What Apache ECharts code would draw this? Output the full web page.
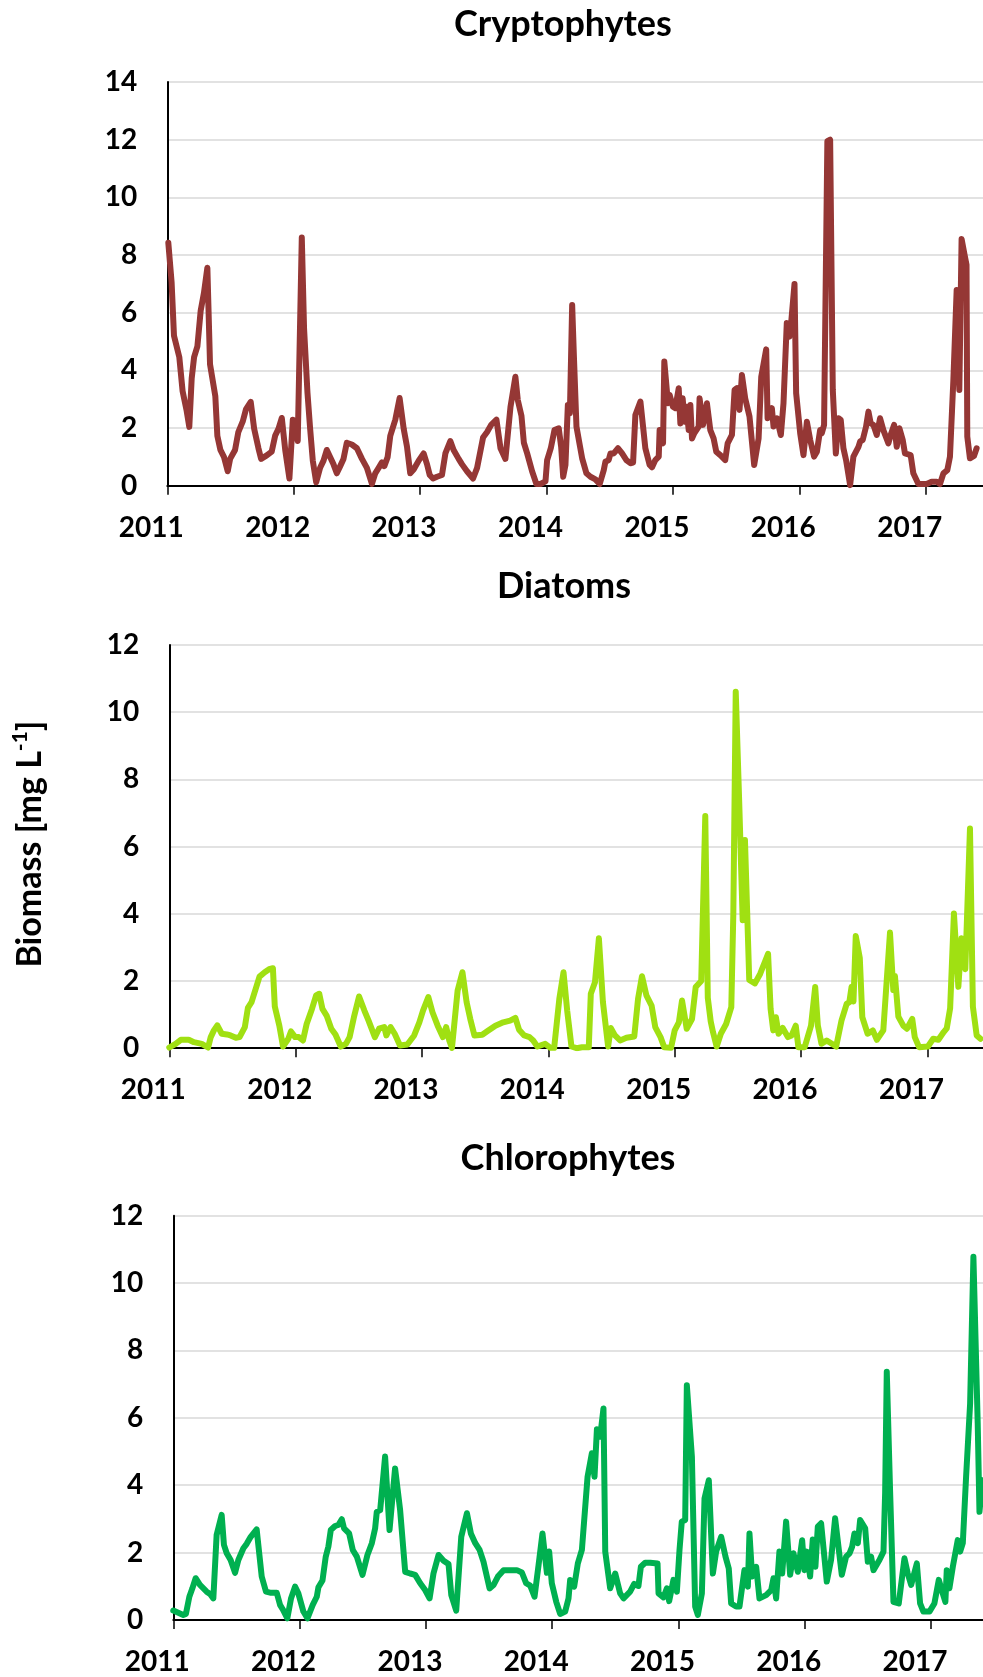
<!DOCTYPE html>
<html>
<head>
<meta charset="utf-8">
<script src="https://cdn.jsdelivr.net/npm/echarts@6/dist/echarts.min.js"></script>
<style>
html,body{margin:0;padding:0;background:#fff;}
#chart{width:983px;height:1677px;}
</style>
</head>
<body>
<div id="chart"></div>
<script>
// ---------- DATA ----------
const yearTicks = [2011, 2012, 2013, 2014, 2015, 2016, 2017];
const yearLabels = ['2011', '2012', '2013', '2014', '2015', '2016', '2017'];
const panelTitles = ['Cryptophytes', 'Diatoms', 'Chlorophytes'];
const yAxisTitle = 'Biomass [mg L';
const yAxisTitleSup = '-1';

const cryptoYears = [2011.008,2011.034,2011.053,2011.095,2011.121,2011.153,2011.174,2011.193,2011.212,2011.238,2011.264,2011.290,2011.317,2011.338,2011.380,2011.396,2011.420,2011.449,2011.478,2011.497,2011.536,2011.562,2011.597,2011.623,2011.660,2011.687,2011.721,2011.742,2011.787,2011.826,2011.853,2011.880,2011.906,2011.933,2011.966,2011.993,2012.011,2012.032,2012.064,2012.082,2012.109,2012.130,2012.151,2012.178,2012.209,2012.236,2012.262,2012.289,2012.315,2012.341,2012.368,2012.394,2012.420,2012.460,2012.500,2012.540,2012.579,2012.619,2012.645,2012.672,2012.698,2012.717,2012.743,2012.764,2012.804,2012.838,2012.870,2012.896,2012.922,2012.949,2012.989,2013.028,2013.055,2013.076,2013.102,2013.134,2013.173,2013.200,2013.239,2013.265,2013.305,2013.332,2013.371,2013.419,2013.451,2013.498,2013.530,2013.562,2013.604,2013.636,2013.675,2013.715,2013.754,2013.773,2013.802,2013.821,2013.847,2013.886,2013.920,2013.952,2013.992,2014.005,2014.034,2014.063,2014.097,2014.116,2014.132,2014.150,2014.169,2014.185,2014.203,2014.216,2014.237,2014.263,2014.282,2014.316,2014.348,2014.387,2014.421,2014.453,2014.466,2014.492,2014.506,2014.532,2014.566,2014.598,2014.632,2014.664,2014.685,2014.703,2014.743,2014.764,2014.782,2014.816,2014.835,2014.861,2014.888,2014.895,2014.922,2014.932,2014.961,2014.974,2015.000,2015.019,2015.046,2015.059,2015.077,2015.093,2015.106,2015.125,2015.138,2015.151,2015.169,2015.204,2015.211,2015.238,2015.269,2015.296,2015.322,2015.343,2015.375,2015.414,2015.433,2015.467,2015.488,2015.506,2015.527,2015.546,2015.572,2015.606,2015.643,2015.678,2015.699,2015.738,2015.749,2015.783,2015.796,2015.823,2015.854,2015.875,2015.901,2015.922,2015.933,2015.962,2015.975,2016.007,2016.033,2016.060,2016.086,2016.117,2016.139,2016.165,2016.178,2016.196,2016.222,2016.244,2016.265,2016.289,2016.310,2016.328,2016.349,2016.370,2016.402,2016.428,2016.468,2016.481,2016.502,2016.528,2016.547,2016.565,2016.586,2016.613,2016.639,2016.665,2016.705,2016.723,2016.750,2016.771,2016.792,2016.818,2016.836,2016.881,2016.902,2016.942,2017.008,2017.047,2017.087,2017.113,2017.140,2017.171,2017.192,2017.219,2017.245,2017.266,2017.284,2017.310,2017.323,2017.329,2017.350,2017.382,2017.403];
const cryptoValues = [8.43,7.06,5.20,4.46,3.28,2.60,2.04,3.72,4.46,4.83,6.07,6.69,7.56,4.21,3.10,1.73,1.24,0.99,0.50,0.93,1.24,1.86,2.23,2.66,2.91,1.98,1.30,0.93,1.05,1.18,1.73,1.98,2.35,1.24,0.25,2.29,2.23,1.55,8.61,5.45,3.22,1.98,0.87,0.12,0.62,0.87,1.24,0.99,0.74,0.43,0.68,0.93,1.49,1.43,1.30,0.93,0.62,0.06,0.43,0.62,0.81,0.68,0.99,1.73,2.29,3.04,1.98,1.36,0.43,0.56,0.87,1.12,0.74,0.37,0.25,0.31,0.37,1.12,1.55,1.24,0.93,0.74,0.50,0.25,0.62,1.67,1.86,2.11,2.29,1.30,0.93,2.73,3.78,2.97,2.42,1.49,1.12,0.50,0.06,0.06,0.15,0.89,1.30,1.93,1.99,1.35,0.31,0.72,2.80,2.51,6.27,4.59,2.05,1.41,0.95,0.43,0.31,0.22,0.06,0.54,0.83,0.89,1.12,1.12,1.30,1.12,0.89,0.78,0.80,2.45,2.92,2.05,1.30,0.72,0.64,0.89,1.01,1.93,1.47,4.31,2.86,3.15,2.74,2.69,3.38,2.16,3.03,2.22,2.74,1.93,2.80,1.64,1.82,2.05,3.03,2.11,2.86,1.93,1.64,1.18,1.06,0.89,1.47,1.76,3.32,3.38,2.63,3.84,3.03,2.40,0.72,1.64,3.78,4.73,2.34,2.69,2.05,2.34,1.76,2.86,5.64,5.17,5.52,7.00,3.21,1.82,1.06,2.22,1.59,1.01,1.18,1.93,1.82,2.11,11.95,12.0,3.32,1.12,2.34,2.28,1.30,0.89,0.02,1.01,1.35,1.53,1.59,2.05,2.57,2.16,2.11,1.76,2.34,1.93,1.47,1.76,2.11,1.35,1.99,1.59,1.12,1.06,0.43,0.06,0.06,0.14,0.14,0.06,0.43,0.54,1.01,3.67,6.79,3.32,8.56,7.95,7.66,1.70,0.95,1.03,1.30];

const diatomYears = [2011.000,2011.050,2011.091,2011.154,2011.195,2011.257,2011.307,2011.328,2011.353,2011.380,2011.415,2011.456,2011.485,2011.527,2011.556,2011.598,2011.622,2011.651,2011.680,2011.714,2011.755,2011.790,2011.820,2011.835,2011.871,2011.900,2011.942,2011.963,2011.996,2012.025,2012.058,2012.087,2012.129,2012.162,2012.187,2012.212,2012.245,2012.282,2012.315,2012.357,2012.398,2012.427,2012.461,2012.502,2012.544,2012.577,2012.627,2012.660,2012.701,2012.718,2012.751,2012.784,2012.826,2012.884,2012.938,2012.979,2013.008,2013.050,2013.083,2013.124,2013.166,2013.191,2013.216,2013.237,2013.282,2013.320,2013.353,2013.382,2013.415,2013.477,2013.519,2013.581,2013.643,2013.697,2013.739,2013.768,2013.809,2013.851,2013.880,2013.913,2013.975,2014.017,2014.046,2014.087,2014.120,2014.149,2014.183,2014.224,2014.266,2014.320,2014.336,2014.369,2014.400,2014.432,2014.473,2014.494,2014.527,2014.568,2014.618,2014.680,2014.710,2014.741,2014.776,2014.817,2014.846,2014.888,2014.917,2014.971,2015.000,2015.033,2015.058,2015.095,2015.137,2015.166,2015.210,2015.242,2015.262,2015.285,2015.303,2015.332,2015.365,2015.407,2015.448,2015.464,2015.483,2015.510,2015.538,2015.556,2015.590,2015.635,2015.676,2015.718,2015.739,2015.759,2015.780,2015.801,2015.822,2015.855,2015.896,2015.925,2015.958,2015.979,2016.029,2016.079,2016.112,2016.133,2016.162,2016.203,2016.278,2016.320,2016.361,2016.382,2016.400,2016.415,2016.433,2016.465,2016.485,2016.527,2016.568,2016.600,2016.651,2016.704,2016.730,2016.743,2016.770,2016.809,2016.838,2016.880,2016.900,2016.934,2017.004,2017.046,2017.087,2017.129,2017.153,2017.180,2017.210,2017.245,2017.270,2017.300,2017.337,2017.360,2017.390,2017.420];
const diatomValues = [0.02,0.13,0.25,0.25,0.18,0.13,0.02,0.33,0.53,0.68,0.43,0.41,0.38,0.31,0.33,0.63,1.20,1.37,1.72,2.13,2.26,2.35,2.38,1.24,0.67,0.05,0.28,0.50,0.33,0.33,0.23,0.72,1.17,1.57,1.62,1.17,0.97,0.58,0.41,0.05,0.13,0.33,0.92,1.54,1.12,0.82,0.33,0.58,0.63,0.38,0.63,0.43,0.08,0.11,0.38,0.77,1.12,1.52,1.07,0.67,0.33,0.63,0.23,0.01,1.72,2.26,1.37,0.87,0.38,0.40,0.51,0.67,0.77,0.82,0.90,0.55,0.38,0.33,0.23,0.05,0.13,0.01,0.01,1.47,2.26,1.12,0.05,0.00,0.03,0.03,1.62,1.96,3.27,1.37,0.05,0.60,0.38,0.23,0.31,0.35,1.47,2.14,1.57,1.27,0.63,0.33,0.03,0.01,0.53,0.77,1.42,0.58,0.87,1.82,2.0,6.91,1.5,0.8,0.48,0.05,0.43,0.72,1.22,4.01,10.61,7.39,3.81,6.20,2.03,1.93,2.21,2.61,2.81,1.17,0.53,0.92,0.43,0.60,0.33,0.38,0.67,0.03,0.03,0.67,1.82,0.67,0.13,0.23,0.05,0.82,1.32,1.37,1.83,1.39,3.34,2.68,0.92,0.43,0.53,0.25,0.53,3.44,1.73,2.15,0.94,0.67,0.58,0.87,0.33,0.03,0.05,0.28,0.25,0.48,0.59,1.19,4.01,1.83,3.27,2.35,6.54,1.24,0.38,0.28];

const chloroYears = [2011.000,2011.079,2011.100,2011.127,2011.151,2011.177,2011.211,2011.264,2011.291,2011.317,2011.343,2011.383,2011.401,2011.423,2011.454,2011.489,2011.515,2011.555,2011.581,2011.613,2011.660,2011.700,2011.734,2011.766,2011.819,2011.845,2011.866,2011.903,2011.932,2011.964,2011.990,2012.030,2012.062,2012.104,2012.136,2012.149,2012.181,2012.207,2012.228,2012.247,2012.281,2012.307,2012.334,2012.352,2012.392,2012.421,2012.453,2012.498,2012.537,2012.572,2012.598,2012.611,2012.638,2012.677,2012.712,2012.756,2012.796,2012.836,2012.875,2012.915,2012.955,2012.994,2013.029,2013.060,2013.100,2013.140,2013.179,2013.201,2013.240,2013.280,2013.325,2013.356,2013.391,2013.425,2013.456,2013.504,2013.536,2013.570,2013.615,2013.720,2013.760,2013.794,2013.826,2013.860,2013.892,2013.923,2013.958,2013.976,2013.997,2014.032,2014.063,2014.103,2014.129,2014.142,2014.174,2014.203,2014.235,2014.280,2014.314,2014.335,2014.354,2014.380,2014.406,2014.420,2014.459,2014.499,2014.538,2014.565,2014.617,2014.649,2014.683,2014.702,2014.736,2014.776,2014.834,2014.842,2014.881,2014.908,2014.926,2014.960,2014.987,2015.008,2015.026,2015.053,2015.066,2015.106,2015.132,2015.153,2015.185,2015.206,2015.240,2015.272,2015.298,2015.338,2015.372,2015.398,2015.417,2015.456,2015.483,2015.522,2015.549,2015.562,2015.583,2015.615,2015.641,2015.694,2015.734,2015.752,2015.773,2015.799,2015.821,2015.852,2015.884,2015.910,2015.945,2015.979,2015.997,2016.016,2016.042,2016.063,2016.084,2016.103,2016.129,2016.174,2016.208,2016.240,2016.293,2016.327,2016.354,2016.375,2016.393,2016.420,2016.438,2016.478,2016.499,2016.525,2016.544,2016.591,2016.623,2016.636,2016.649,2016.675,2016.702,2016.744,2016.789,2016.815,2016.842,2016.887,2016.913,2016.939,2016.987,2017.026,2017.061,2017.092,2017.113,2017.124,2017.145,2017.172,2017.211,2017.230,2017.251,2017.277,2017.309,2017.335,2017.369,2017.383,2017.406];
const chloroValues = [0.28,0.15,0.18,0.69,0.94,1.24,1.04,0.84,0.77,0.64,2.52,3.12,2.23,1.98,1.78,1.40,1.78,2.13,2.26,2.47,2.69,1.29,0.84,0.81,0.81,0.45,0.32,0.05,0.64,0.99,0.79,0.25,0.05,0.45,0.69,0.97,1.17,1.88,2.18,2.67,2.79,2.82,2.99,2.72,2.57,2.08,1.88,1.34,1.93,2.28,2.72,3.21,3.26,4.85,2.67,4.50,3.26,1.43,1.38,1.34,1.09,0.89,0.64,1.38,1.93,1.76,1.66,0.74,0.28,2.47,3.17,2.57,2.28,2.08,1.73,0.94,1.04,1.29,1.48,1.48,1.41,1.09,1.02,0.69,1.63,2.57,1.40,2.03,1.09,0.54,0.18,0.25,0.64,1.19,0.99,1.68,2.08,4.25,4.95,4.25,5.66,5.44,6.28,2.03,0.94,1.38,0.79,0.64,0.84,1.07,1.01,1.58,1.70,1.70,1.68,0.79,0.67,0.94,0.56,1.19,0.84,2.08,2.92,2.97,6.97,4.85,0.40,0.15,0.79,3.61,4.15,1.38,2.03,2.47,1.88,1.53,0.49,0.40,0.40,1.48,0.99,2.57,1.29,1.58,0.64,0.74,0.89,1.24,0.64,2.03,1.38,2.92,1.34,1.98,1.43,2.37,1.48,2.03,1.29,2.39,1.58,2.77,2.87,1.14,1.78,3.02,1.34,1.88,1.98,2.18,2.57,2.28,2.97,2.72,1.73,1.88,1.48,1.78,2.03,3.76,7.37,3.86,0.54,0.49,1.83,1.38,1.04,1.68,0.49,0.25,0.25,0.49,1.19,0.79,0.54,1.48,0.94,1.58,2.37,2.03,2.28,4.25,6.43,10.78,5.84,3.21,4.15];

// ---------- STYLE ----------
const FONT = 'Lato';
const colors = ['#953735', '#A0E012', '#00B050'];
const grids = [
  {left: 167.3, top: 82.1, height: 403.6, xmax: 2011 + 815.7 / 126.4, ymax: 14},
  {left: 169.3, top: 645.0, height: 403.2, xmax: 2011 + 813.7 / 126.35, ymax: 12},
  {left: 173.3, top: 1215.7, height: 404.3, xmax: 2011 + 809.7 / 126.3, ymax: 12}
];
const seriesData = [
  cryptoYears.map((y, i) => [y, cryptoValues[i]]),
  diatomYears.map((y, i) => [y, diatomValues[i]]),
  chloroYears.map((y, i) => [y, chloroValues[i]])
];
const titlePos = [[563, 24], [564, 586], [568, 1158]];

const chart = echarts.init(document.getElementById('chart'), null, {renderer: 'canvas'});

const option = {
  backgroundColor: '#fff',
  animation: false,
  grid: grids.map(g => ({left: g.left, top: g.top, height: g.height, right: 0, containLabel: false, outerBoundsMode: 'none'})),
  xAxis: grids.map((g, i) => ({
    type: 'value', gridIndex: i, min: 2011, max: g.xmax,
    axisLine: {show: true, onZero: true, lineStyle: {color: '#000', width: 2}},
    axisTick: {show: true, customValues: yearTicks, length: 9, lineStyle: {color: '#000', width: 1.5}},
    splitLine: {show: false},
    axisLabel: {
      customValues: yearTicks,
      formatter: v => yearLabels[yearTicks.indexOf(Math.round(v))] || '',
      fontFamily: FONT, fontSize: 28, fontWeight: 'bold', color: '#000',
      margin: 28, padding: [0, 32, 0, 0]
    }
  })),
  yAxis: grids.map((g, i) => ({
    type: 'value', gridIndex: i, min: 0, max: g.ymax, interval: 2,
    axisLine: {show: true, lineStyle: {color: '#000', width: 2}},
    axisTick: {show: false},
    splitLine: {show: true, lineStyle: {color: '#D9D9D9', width: 1.5}},
    axisLabel: {fontFamily: FONT, fontSize: 28, fontWeight: 'bold', color: '#000', margin: 30}
  })),
  series: seriesData.map((d, i) => ({
    type: 'line', xAxisIndex: i, yAxisIndex: i, data: d,
    showSymbol: false, symbol: 'none', smooth: false,
    lineStyle: {color: colors[i], width: 6, join: 'round', cap: 'round'},
    itemStyle: {color: colors[i]}
  })),
  graphic: [
    ...panelTitles.map((t, i) => ({
      type: 'text', x: titlePos[i][0], y: titlePos[i][1],
      style: {text: t, fontFamily: FONT, fontSize: 36, fontWeight: 'bold', fill: '#000', align: 'center', verticalAlign: 'middle'}
    })),
    {
      type: 'text', x: 30, y: 844, rotation: Math.PI / 2,
      style: {
        text: '{a|' + yAxisTitle + '}{b|' + yAxisTitleSup + '}{a|]}',
        align: 'center', verticalAlign: 'middle',
        rich: {
          a: {fontFamily: FONT, fontSize: 34, fontWeight: 'bold', fill: '#000', lineHeight: 40},
          b: {fontFamily: FONT, fontSize: 21, fontWeight: 'bold', fill: '#000', verticalAlign: 'top', lineHeight: 22}
        }
      }
    }
  ]
};
chart.setOption(option);
</script>
</body>
</html>
